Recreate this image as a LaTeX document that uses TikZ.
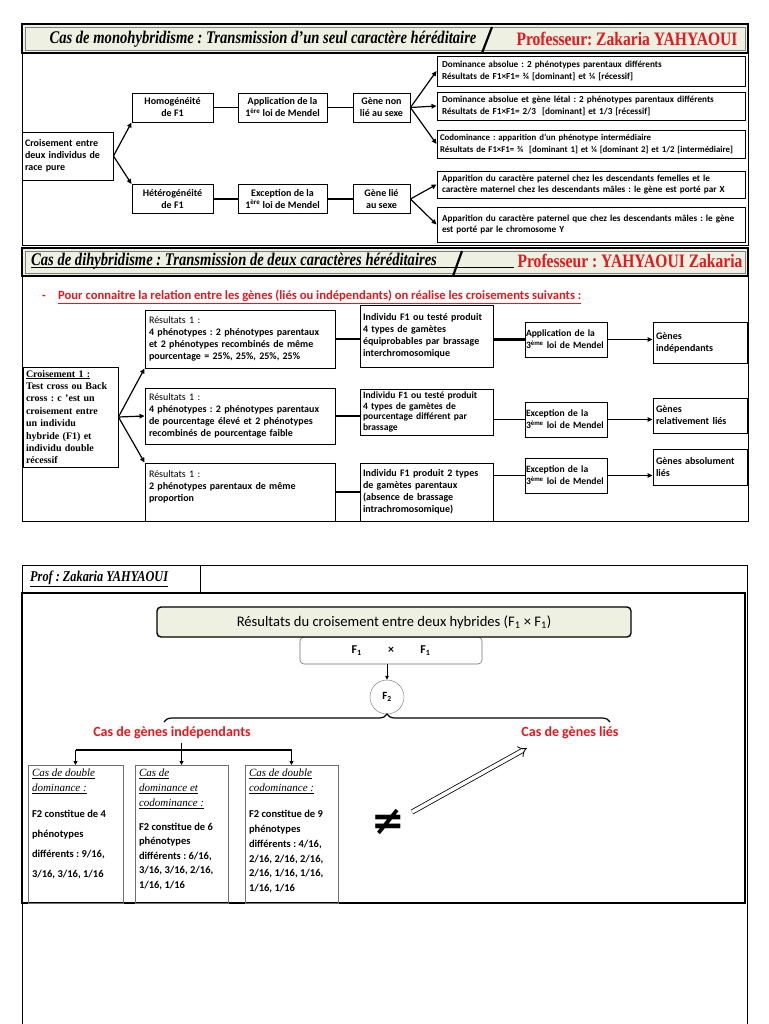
\documentclass[tikz,border=0pt]{standalone}
\usepackage{fontspec}
\setmainfont{Carlito}
\newfontfamily\tnr{Liberation Serif}
\newfontfamily\hdfont[FakeStretch=0.82]{Liberation Serif}
\newfontfamily\djv{DejaVu Sans}
\usetikzlibrary{positioning,arrows.meta,calc,decorations.pathreplacing}
\definecolor{hdfill}{RGB}{238,240,225}
\definecolor{redtxt}{RGB}{228,24,30}
\definecolor{boxgray}{RGB}{110,110,110}
\frenchspacing

\begin{document}
\begin{tikzpicture}[x=1pt, y=-1pt,
  box/.style={draw, line width=0.9pt, inner sep=2pt, align=left, font=\fontsize{10}{12}\selectfont\bfseries},
  cbox/.style={box, align=center},
  wbox/.style={box, font=\fontsize{9.2}{11.5}\selectfont\bfseries, text width=298pt, minimum width=308pt, inner xsep=5pt},
  mbox/.style={box, text width=80pt, minimum width=82pt, minimum height=35pt, inner xsep=1pt, font=\fontsize{9.6}{12}\selectfont\bfseries},
  fbox/.style={draw=boxgray, line width=0.7pt, anchor=north, inner sep=4pt, font=\fontsize{10.5}{20}\selectfont\bfseries},
  arr/.style={-{Triangle[length=5pt,width=4.5pt]}, line width=1.2pt},
  arrs/.style={-{Triangle[length=4pt,width=4pt]}, line width=1.1pt},
  lnk/.style={line width=1.2pt},
  hdbar/.style={draw, line width=1.8pt, fill=hdfill},
  hdtxt/.style={inner xsep=0pt, font=\hdfont\bfseries\itshape\fontsize{17.8}{20}\selectfont},
  proftxt/.style={text=redtxt, font=\hdfont\bfseries\fontsize{19}{20}\selectfont},
  redlbl/.style={text=redtxt, font=\fontsize{14}{16}\selectfont\bfseries}
]
\useasboundingbox (0,0) rectangle (768,1024);

% ---------- monohybridisme
\draw[hdbar] (22,24) rectangle (748,53);
\draw[gray, line width=0.5pt] (25,27) rectangle (745,50);
\node[hdtxt] (t1) at (263,39) {Cas de monohybridisme : Transmission d’un seul caractère héréditaire};
\node[proftxt] (p1) at (627,39) {Professeur: Zakaria YAHYAOUI};
\draw[line width=2.2pt] (482,53) -- (492,27);
\draw[line width=0.6pt] (22,53) rectangle (748,245);

\node[box, text width=85pt, minimum width=91pt, minimum height=48pt] (cr) at (67.5,156) {Croisement entre\\deux individus de\\race pure};
\node[cbox, minimum width=81pt, minimum height=29pt] (hom) at (172.5,107.5) {Homogénéité\\de F1};
\node[cbox, minimum width=81pt, minimum height=29pt] (het) at (172.5,199) {Hétérogénéité\\de F1};
\node[cbox, minimum width=89pt, minimum height=29pt] (app1) at (282.5,107.5) {Application de la\\1\textsuperscript{ère} loi de Mendel};
\node[cbox, minimum width=89pt, minimum height=29pt] (exc1) at (282.5,199) {Exception de la\\1\textsuperscript{ère} loi de Mendel};
\node[cbox, minimum width=57pt, minimum height=29pt] (gnl) at (381.5,107.5) {Gène non\\lié au sexe};
\node[cbox, minimum width=57pt, minimum height=29pt] (gl) at (381.5,199) {Gène lié\\au sexe};

\node[wbox, minimum height=30pt] (r1) at (591,71) {Dominance absolue : 2 phénotypes parentaux différents\\Résultats de F1×F1= ¾ [dominant] et ¼ [récessif]};
\node[wbox, minimum height=28pt] (r2) at (591,106) {Dominance absolue et gène létal : 2 phénotypes parentaux différents\\Résultats de F1×F1= 2/3~ [dominant] et 1/3 [récessif]};
\node[wbox, minimum height=28pt, inner xsep=3pt, text width=302pt, font=\fontsize{8.8}{11.5}\selectfont\bfseries] (r3) at (591,144) {Codominance : apparition d’un phénotype intermédiaire\\Résultats de F1×F1= ¾~ [dominant 1] et ¼ [dominant 2] et 1/2 [intermédiaire]};
\node[wbox, minimum height=27pt] (r4) at (591,184.5) {Apparition du caractère paternel chez les descendants femelles et le\\caractère maternel chez les descendants mâles : le gène est porté par X};
\node[wbox, minimum height=35pt] (r5) at (591,224.5) {Apparition du caractère paternel que chez les descendants mâles : le gène\\est porté par le chromosome Y};

\draw[arr] (cr.east) -- (hom.south west);
\draw[arr] (cr.east) -- (het.north west);
\draw[lnk] (hom) -- (app1);
\draw[lnk] (app1) -- (gnl);
\draw[lnk] (het) -- (exc1);
\draw[lnk] (exc1) -- (gl);
\foreach \r in {r1,r2,r3}
  \draw[arr] (gnl.east) -- (\r.west);
\foreach \r in {r4,r5}
  \draw[arr] (gl.east) -- (\r.west);

% ---------- dihybridisme
\draw[hdbar] (22,248) rectangle (748,276);
\draw[gray, line width=0.5pt] (25,251) rectangle (745,273);
\node[hdtxt, anchor=west] (t2) at (31,261) {Cas de dihybridisme : Transmission de deux caractères héréditaires};
\node[proftxt] (p2) at (630,261) {Professeur : YAHYAOUI Zakaria};
\draw[line width=0.8pt] ([yshift=-2.5pt]t2.base west) -- ([yshift=-2.5pt]t2.base west -| p2.west);
\draw[line width=2.2pt] (453,276) -- (462,251);
\draw[line width=0.6pt] (22,276) rectangle (748,521);

\node[font=\fontsize{12.6}{14}\selectfont\bfseries, text=redtxt, anchor=west, inner sep=0pt] (intro) at (58,297) {\underline{Pour connaitre la relation entre les gènes (liés ou indépendants) on réalise les croisements suivants :}};
\node[font=\fontsize{12}{14}\selectfont\bfseries, text=redtxt, inner sep=0pt] (tiret) at (44,297) {-};

\node[box, text width=89pt, minimum width=95pt, minimum height=100pt, inner ysep=1pt, font=\tnr\bfseries\fontsize{10}{12.4}\selectfont] (cr2) at (70.5,417) {\underline{Croisement 1 :}\\Test cross ou Back\\cross : c ’est un\\croisement entre\\un individu\\hybride (F1) et\\individu double\\récessif};

\node[box, text width=182pt, minimum width=190pt, minimum height=58pt] (resA) at (240,339) {{\mdseries Résultats 1 :}\\4 phénotypes : 2 phénotypes parentaux\\et 2 phénotypes recombinés de même\\pourcentage = 25\%, 25\%, 25\%, 25\%};
\node[box, text width=182pt, minimum width=190pt, minimum height=56pt] (resB) at (240,416) {{\mdseries Résultats 1 :}\\4 phénotypes : 2 phénotypes parentaux\\de pourcentage élevé et 2 phénotypes\\recombinés de pourcentage faible};
\node[box, text width=182pt, minimum width=190pt, minimum height=58pt] (resC) at (240,492) {{\mdseries Résultats 1 :}\\2 phénotypes parentaux de même\\proportion\\~};

\node[box, text width=127pt, minimum width=133pt, minimum height=62pt] (indA) at (426.5,336) {Individu F1 ou testé produit\\4 types de gamètes\\équiprobables par brassage\\interchromosomique};
\node[box, text width=127pt, minimum width=133pt, minimum height=46pt, inner ysep=1pt, font=\fontsize{9.6}{10.4}\selectfont\bfseries] (indB) at (426.5,412) {Individu F1 ou testé produit\\4 types de gamètes de\\pourcentage différent par\\brassage};
\node[box, text width=127pt, minimum width=133pt, minimum height=58pt] (indC) at (426.5,492) {Individu F1 produit 2 types\\de gamètes parentaux\\(absence de brassage\\intrachromosomique)};

\node[mbox] (appA) at (566,339.5) {Application de la\\3\textsuperscript{ème} loi de Mendel};
\node[mbox] (excB) at (566,419.5) {Exception de la\\3\textsuperscript{ème} loi de Mendel};
\node[mbox] (excC) at (566,475.5) {Exception de la\\3\textsuperscript{ème} loi de Mendel};

\node[box, text width=88pt, minimum width=94pt, minimum height=41pt] (genA) at (700,342.5) {Gènes\\indépendants};
\node[box, text width=88pt, minimum width=94pt, minimum height=35pt] (genB) at (700,415.5) {Gènes\\relativement liés};
\node[box, text width=88pt, minimum width=94pt, minimum height=36pt] (genC) at (700,467) {Gènes absolument\\liés};

\draw[arr] (cr2.east) -- (resA.south west);
\draw[arr] (cr2.east) -- (resB.west);
\draw[arr] (cr2.east) -- (resC.north west);
\draw[lnk] (resA.east) -- (resA.east -| indA.west);
\draw[lnk] (resB.east) -- (resB.east -| indB.west);
\draw[lnk] (resC.east) -- (resC.east -| indC.west);
\draw[line width=2.2pt] (appA.west -| indA.east) -- (appA.west);
\draw[lnk] (excB.west -| indB.east) -- (excB.west);
\draw[lnk] (excC.west -| indC.east) -- (excC.west);
\draw[arr] (appA.east) -- (appA.east -| genA.west);
\draw[arr] (excB.east) -- (excB.east -| genB.west);
\draw[arr] (excC.east) -- (excC.east -| genC.west);

% ---------- F1 x F1
\draw[line width=0.6pt] (22,1024) -- (22,565) -- (747,565) -- (747,1024);
\draw[line width=0.9pt] (200,565) -- (200,593);
\node[anchor=west, inner xsep=0pt, font=\hdfont\bfseries\itshape\fontsize{15}{17}\selectfont] (p3) at (30,579) {\underline{Prof : Zakaria YAHYAOUI}};
\draw[line width=2pt] (22,593) rectangle (745,903);

\node[draw=boxgray, line width=0.6pt, rounded corners=4pt, minimum width=182pt, minimum height=27pt, font=\fontsize{12}{14}\selectfont\bfseries] (f1) at (391,650.5) {F\textsubscript{1}\hspace{2.2em}×\hspace{2.2em}F\textsubscript{1}};
\node[draw, line width=1.4pt, rounded corners=4pt, fill=hdfill, minimum width=474pt, minimum height=30pt, font=\fontsize{14.6}{16}\selectfont] (ttl) at (394,622) {Résultats du croisement entre deux hybrides (F\textsubscript{1} × F\textsubscript{1})};
\node[draw=boxgray, circle, minimum size=34pt, inner sep=0pt, font=\fontsize{11}{13}\selectfont\bfseries] (f2) at (387,697) {F\textsubscript{2}};
\draw[-{Triangle[length=4pt,width=3.5pt]}, line width=0.8pt] (f1.south -| f2.north) -- (f2.north);

\coordinate (bl) at (164,722);
\coordinate (br) at (610,722);
\draw[line width=1.2pt, decorate, decoration={brace, amplitude=8pt}] (bl) -- (br);

\node[redlbl] (indep) at (172,733) {Cas de gènes indépendants};
\node[redlbl] (lies) at (570,733) {Cas de gènes liés};

\node[fbox] (c1) at (75.5,765) {\begin{minipage}[t][130pt][t]{87pt}\raggedright
{\tnr\mdseries\itshape\fontsize{11}{15}\selectfont\underline{Cas de double}\\\underline{dominance :}\par}\vspace{6pt}
F2 constitue de 4\\phénotypes\\différents : 9/16,\\3/16, 3/16, 1/16\end{minipage}};
\node[fbox] (c2) at (181.5,765) {\begin{minipage}[t][130pt][t]{85pt}\raggedright
{\tnr\mdseries\itshape\fontsize{11}{15}\selectfont\underline{Cas de}\\\underline{dominance et}\\\underline{codominance :}\par}\vspace{9pt}
{\fontsize{10.5}{14.5}\selectfont F2 constitue de 6\\phénotypes\\différents : 6/16,\\3/16, 3/16, 2/16,\\1/16, 1/16\par}\end{minipage}};
\node[fbox] (c3) at (291.5,765) {\begin{minipage}[t][130pt][t]{85pt}\raggedright
{\tnr\mdseries\itshape\fontsize{11}{15}\selectfont\underline{Cas de double}\\\underline{codominance :}\par}\vspace{11pt}
{\fontsize{10.5}{14.8}\selectfont F2 constitue de 9\\phénotypes\\différents : 4/16,\\2/16, 2/16, 2/16,\\2/16, 1/16, 1/16,\\1/16, 1/16\par}\end{minipage}};

\coordinate (hb) at (181,750);
\draw[arrs] (indep.south -| c2.north) -- (c2.north);
\draw[line width=1.1pt] (hb -| c1.north) -- (hb -| c3.north);
\draw[arrs] (hb -| c1.north) -- (c1.north);
\draw[arrs] (hb -| c3.north) -- (c3.north);

\node[font=\djv\bfseries\fontsize{40}{40}\selectfont, inner sep=0pt] (neq) at (388,822) {≠};
\coordinate (ds) at (412,812);
\coordinate (de) at (527,748);
\draw[double, double distance=3.5pt, line width=0.8pt, -{Implies}] (ds) -- (de);
\end{tikzpicture}
\end{document}
